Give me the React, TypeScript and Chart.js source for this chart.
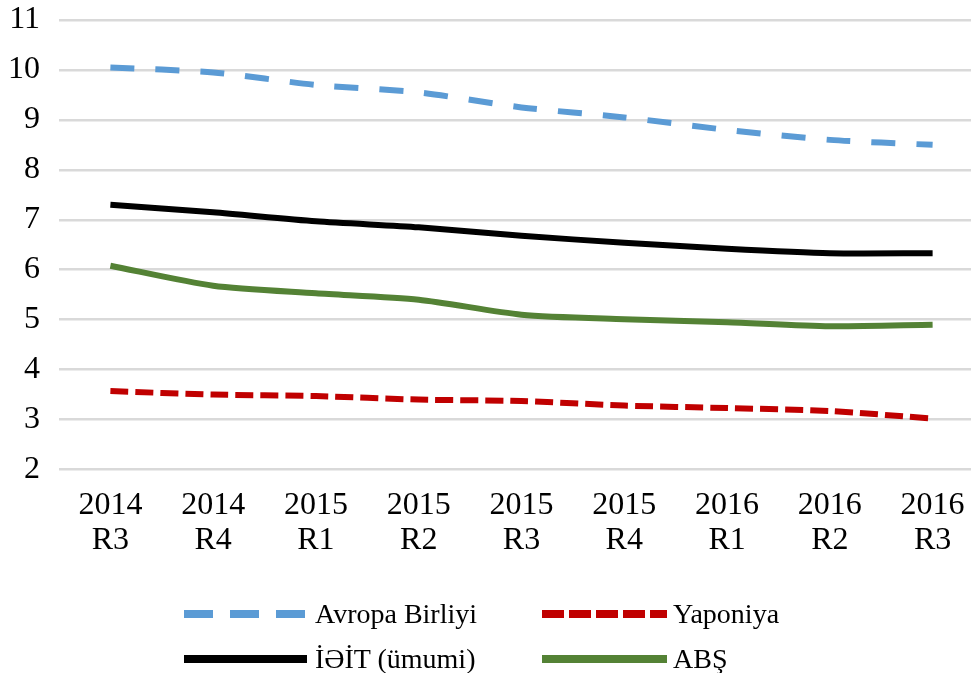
import React, { useEffect, useRef } from "react";
import { Chart, registerables } from "chart.js";

Chart.register(...registerables);

const categories: string[][] = [
  ["2014", "R3"], ["2014", "R4"], ["2015", "R1"], ["2015", "R2"], ["2015", "R3"],
  ["2015", "R4"], ["2016", "R1"], ["2016", "R2"], ["2016", "R3"],
];
const avropa = [10.05, 9.95, 9.7, 9.55, 9.25, 9.05, 8.8, 8.6, 8.5];
const yaponiya = [3.57, 3.5, 3.47, 3.4, 3.37, 3.28, 3.23, 3.17, 3.02];
const oecd = [7.3, 7.15, 6.97, 6.85, 6.68, 6.54, 6.42, 6.33, 6.33];
const abs = [6.08, 5.68, 5.53, 5.4, 5.1, 5.01, 4.95, 4.87, 4.9];
const seriesNames = ["Avropa Birliyi", "Yaponiya", "İƏİT (ümumi)", "ABŞ"];
const yMin = 2;
const yMax = 11;

const FONT = "'Liberation Serif', 'Times New Roman', serif";
const colors = ["#5b9bd5", "#c00000", "#000000", "#548235"];
const chartDash = [[24, 21], [18, 7], [], []];
const legendDash = ["29 17", "22 5", "", ""];

export default function App() {
  const ref = useRef<HTMLCanvasElement | null>(null);

  useEffect(() => {
    document.body.style.margin = "0";
    document.body.style.overflow = "hidden";
    const canvas = ref.current;
    if (!canvas) return;
    const values = [avropa, yaponiya, oecd, abs];
    const chart = new Chart(canvas, {
      type: "line",
      data: {
        labels: categories,
        datasets: values.map((v, i) => ({
          label: seriesNames[i],
          data: v,
          borderColor: colors[i],
          backgroundColor: colors[i],
          borderWidth: 6,
          borderDash: chartDash[i],
          borderCapStyle: "butt",
          pointRadius: 0,
          tension: 0.25,
          fill: false,
        })),
      },
      options: {
        responsive: false,
        animation: false,
        devicePixelRatio: 1,
        layout: { padding: { top: 20, left: 0, right: 0, bottom: 0 } },
        plugins: {
          legend: { display: false },
          tooltip: { enabled: false },
        },
        scales: {
          x: {
            offset: true,
            grid: { display: false, drawTicks: false },
            border: { display: false },
            ticks: {
              color: "#000",
              padding: 18,
              maxRotation: 0,
              autoSkip: false,
              font: { family: FONT, size: 32, lineHeight: 1.1 },
            },
            afterFit: (scale: any) => {
              scale.height = 203.5;
            },
          },
          y: {
            min: yMin,
            max: yMax,
            grid: { color: "#d9d9d9", lineWidth: 2.5, drawTicks: false },
            border: { display: false },
            ticks: {
              stepSize: 1,
              color: "#000",
              padding: 19,
              font: { family: FONT, size: 32 },
            },
            afterFit: (scale: any) => {
              scale.width = 59;
              scale.paddingTop = 0;
              scale.paddingBottom = 0;
            },
          },
        },
      },
    } as any);
    return () => chart.destroy();
  }, []);

  const legendPos = [
    { left: 184, top: 614 },
    { left: 542, top: 614 },
    { left: 184, top: 658.5 },
    { left: 542, top: 658.5 },
  ];

  return (
    <div style={{ position: "relative", width: 971, height: 673, overflow: "hidden", background: "#fff" }}>
      <canvas ref={ref} width={984} height={673} style={{ display: "block", width: 984, height: 673 }} />
      {seriesNames.map((name, i) => (
        <div
          key={name}
          style={{
            position: "absolute",
            left: legendPos[i].left,
            top: legendPos[i].top - 22,
            height: 44,
            display: "flex",
            alignItems: "center",
            fontFamily: FONT,
            fontSize: 28,
            color: "#000",
            whiteSpace: "nowrap",
          }}
        >
          <svg width={i % 2 === 0 ? 123 : 125} height={10} style={{ display: "block", marginRight: i % 2 === 0 ? 8 : 6 }}>
            <line
              x1={0}
              y1={5}
              x2={i % 2 === 0 ? 123 : 125}
              y2={5}
              stroke={colors[i]}
              strokeWidth={8}
              strokeDasharray={legendDash[i] || undefined}
            />
          </svg>
          <span>{name}</span>
        </div>
      ))}
    </div>
  );
}
